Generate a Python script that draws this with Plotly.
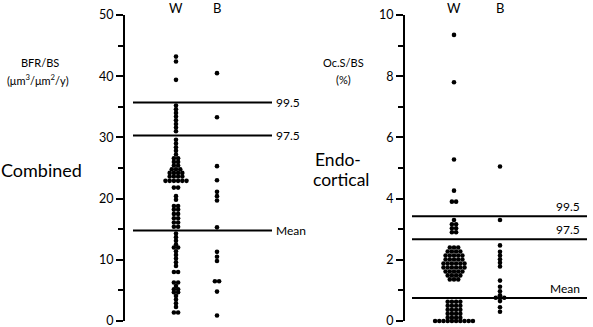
import plotly.graph_objects as go
from collections import Counter

# ---------------- data ----------------
groups = ["W", "B"]

bfr_w = [43.2, 42.4, 39.4,
         35.2, 34.6, 34.0, 33.4, 32.8, 32.2, 31.6, 31.0,
         29.6, 29.0, 28.4, 27.8, 27.2,
         26.6, 26.6, 26.0, 26.0, 25.4, 25.4,
         24.8, 24.8, 24.8, 24.2, 24.2, 24.2, 24.2,
         23.6, 23.6, 23.6, 23.6, 22.9, 22.9, 22.9, 22.9, 22.9, 22.9,
         21.8, 21.8, 20.4, 19.8,
         18.8, 18.8, 18.2, 18.2, 17.5, 17.5, 16.8, 16.8, 16.1, 16.1, 15.4, 15.4,
         14.3, 13.7, 13.1, 12.5, 12.0, 12.0, 11.4, 10.8, 10.2, 9.6, 9.0,
         8.0, 8.0, 6.3, 6.3, 5.7, 5.2, 5.2, 4.7, 4.7, 4.1, 3.5, 2.9, 2.3, 1.4, 1.4]
bfr_b = [40.5, 33.3, 25.3, 23.0, 21.1, 20.4, 19.7, 15.3, 11.3, 10.5, 9.8,
         6.5, 6.5, 4.8, 0.9]
bfr_refs = {"99.5": 35.7, "97.5": 30.3, "Mean": 14.8}

ocs_w = [9.35, 7.8, 5.28, 4.26, 3.9, 3.9, 3.30, 3.16, 3.16, 3.03, 3.03, 2.90, 2.90,
         2.40, 2.40, 2.40, 2.27, 2.27, 2.27, 2.27, 2.14, 2.14, 2.14, 2.14, 2.14,
         2.01, 2.01, 2.01, 2.01, 2.01, 1.88, 1.88, 1.88, 1.88, 1.88, 1.88,
         1.75, 1.75, 1.75, 1.75, 1.75, 1.75, 1.62, 1.62, 1.62, 1.62, 1.62,
         1.49, 1.49, 1.49, 1.49, 1.36, 1.36, 1.36,
         0.63, 0.63, 0.63, 0.63, 0.50, 0.50, 0.50, 0.50, 0.37, 0.37, 0.37, 0.37,
         0.24, 0.24, 0.24, 0.24, 0.11, 0.11, 0.11, 0.11,
         0.0, 0.0, 0.0, 0.0, 0.0, 0.0, 0.0, 0.0, 0.0, 0.0]
ocs_b = [5.05, 3.30, 2.47, 2.26, 2.14, 2.02, 1.90, 1.78,
         1.32, 1.12, 0.97, 0.84, 0.76, 0.76, 0.76, 0.65, 0.45, 0.30]
ocs_refs = {"99.5": 3.42, "97.5": 2.67, "Mean": 0.75}

# ---------------- layout helpers ----------------
W, H = 593, 327
FONT = "Lato, 'Open Sans', sans-serif"
DOT_PX = 4.2


def swarm(values, center, px_per_unit):
    cnt = Counter(values)
    seen = Counter()
    xs = []
    for v in values:
        n = cnt[v]
        i = seen[v]
        seen[v] += 1
        xs.append(center + (i - (n - 1) / 2) * DOT_PX / px_per_unit)
    return xs


fig = go.Figure()

panels = [
    ("x", "y", 125, 176, 217, (bfr_w, bfr_b), bfr_refs, 50, 10),
    ("x2", "y2", 405, 454, 500, (ocs_w, ocs_b), ocs_refs, 10, 2),
]

y_dom = [6 / H, 312 / H]
for k, (xa, ya, axpx, wpx, bpx, series, refs, ymax, dt) in enumerate(panels):
    ppu = bpx - wpx
    right_px = 300 if k == 0 else W
    xr = [(axpx - wpx) / ppu, (right_px - wpx) / ppu]
    for gi, vals in enumerate(series):
        fig.add_trace(go.Scatter(
            x=swarm(vals, gi, ppu), y=vals, mode="markers",
            marker=dict(color="black", size=4.6, line=dict(width=0)),
            xaxis=xa, yaxis=ya, showlegend=False, cliponaxis=False, hoverinfo="y"))
    xkey = "xaxis" if k == 0 else "xaxis2"
    ykey = "yaxis" if k == 0 else "yaxis2"
    fig.update_layout(**{
        xkey: dict(domain=[axpx / W, right_px / W], range=xr, visible=False,
                   anchor=ya, automargin=False),
        ykey: dict(domain=y_dom, range=[0, ymax], anchor=xa, showline=True,
                   linecolor="black", linewidth=2, ticks="outside", ticklen=7,
                   tickwidth=2, tickcolor="black", dtick=dt, showgrid=False,
                   zeroline=False, automargin=False, ticklabeloverflow="allow",
                   tickfont=dict(family=FONT, size=12.5, color="black"),
                   minor=dict(dtick=dt / 2, ticks="outside", ticklen=5,
                              tickwidth=2, tickcolor="black", showgrid=False)),
    })
    for gi, g in enumerate(groups):
        fig.add_annotation(x=gi, y=1 - 8 / H, xref=xa, yref="paper", text=g,
                           showarrow=False, yanchor="middle",
                           font=dict(family=FONT, size=13, color="black"))
    if k == 0:
        x0, x1 = (133 - wpx) / ppu, (272 - wpx) / ppu
    else:
        x0, x1 = (412 - wpx) / ppu, (587 - wpx) / ppu
    for name, val in refs.items():
        fig.add_shape(type="line", xref=xa, yref=ya, x0=x0, x1=x1, y0=val, y1=val,
                      line=dict(color="black", width=2))
        if k == 0:
            fig.add_annotation(x=x1, y=val, xref=xa, yref=ya, text=name,
                               showarrow=False, xanchor="left", yanchor="middle",
                               xshift=2,
                               font=dict(family=FONT, size=12, color="black"))
        else:
            fig.add_annotation(x=(582 - wpx) / ppu, y=val, xref=xa, yref=ya,
                               text=name, showarrow=False, xanchor="right",
                               yanchor="bottom", yshift=0,
                               font=dict(family=FONT, size=12, color="black"))

# side texts
side_texts = [
    ("BFR/BS", 40, 63, 11, "center"),
    ("(μm<sup>3</sup>/μm<sup>2</sup>/y)", 38, 80, 11, "center"),
    ("Combined", 41, 170, 18, "center"),
    ("Oc.S/BS", 343, 63, 11, "center"),
    ("(%)", 343, 79, 11, "center"),
    ("Endo-", 314, 159, 17.5, "left"),
    ("cortical", 312, 179, 17.5, "left"),
]
for txt, px, py, sz, anc in side_texts:
    fig.add_annotation(x=px / W, y=1 - py / H, xref="paper", yref="paper",
                       text=txt, showarrow=False, xanchor=anc, yanchor="middle",
                       borderpad=0,
                       font=dict(family=FONT, size=sz, color="black"))

fig.update_layout(width=W, height=H, margin=dict(l=0, r=0, t=0, b=0, autoexpand=False),
                  paper_bgcolor="white", plot_bgcolor="white")

fig.write_html("out.html")
